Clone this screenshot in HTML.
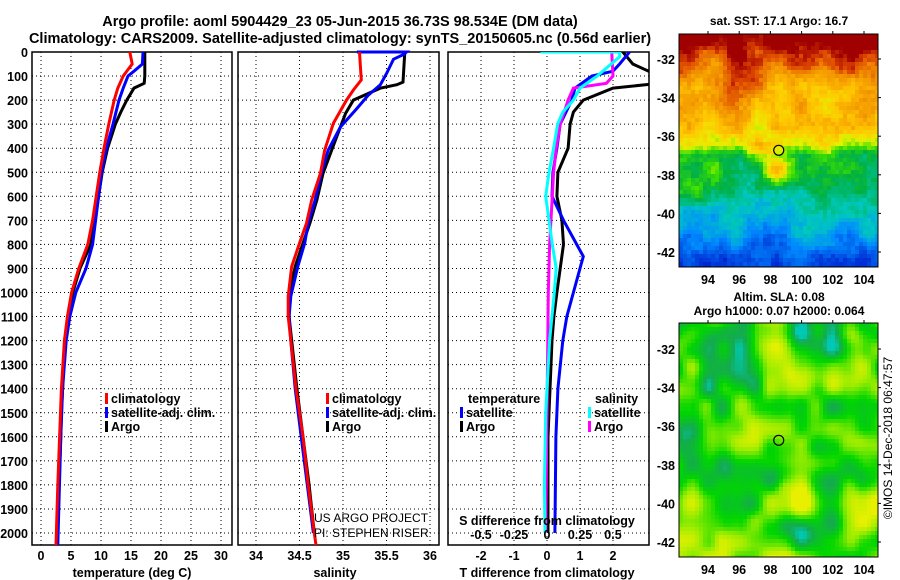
<!DOCTYPE html>
<html><head><meta charset="utf-8"><style>
body{margin:0;background:#fff;}
svg{display:block;font-family:"Liberation Sans",Arial,sans-serif;}
.b{font-weight:bold;}
</style></head><body>
<svg id="fig" width="900" height="580" viewBox="0 0 900 580">
<text x="340" y="26" text-anchor="middle" font-size="14.5" class="b">Argo profile: aoml 5904429_23 05-Jun-2015 36.73S 98.534E (DM data)</text>
<text x="340" y="43" text-anchor="middle" font-size="14.5" class="b">Climatology: CARS2009. Satellite-adjusted climatology: synTS_20150605.nc (0.56d earlier)</text>
<g id="grids"></g>
<g id="series"></g>
<g id="maps"></g>
<g id="labels"></g>
</svg>
<script>
// ---- depth axis ticks
const depthTicks=[0,100,200,300,400,500,600,700,800,900,1000,1100,1200,1300,1400,1500,1600,1700,1800,1900,2000];
const tempTicks=[0,5,10,15,20,25,30];
const salTicks=[34,34.5,35,35.5,36];
const tdiffTicks=[-2,-1,0,1,2];
const sdiffTicks=[-0.5,-0.25,0,0.25,0.5];
const sdiffTickLabels=['-0.5','-0.25','0','0.25','0.5'];
// ---- temperature profiles
const tClimDepth=[0,50,100,150,200,300,400,500,600,700,800,900,1000,1100,1200,1400,1600,1800,2050];
const tClimVal=[14.8,15.2,13.7,12.8,12.2,11.3,10.5,9.8,9.2,8.6,7.8,6.3,5.1,4.4,3.9,3.4,3.1,2.8,2.5];
const tSatDepth=[0,50,80,100,150,200,300,400,500,700,800,900,1000,1100,1200,1400,1600,2050];
const tSatVal=[17.0,16.9,15.5,14.5,13.7,13.0,12.0,10.9,10.1,9.1,8.6,7.5,5.8,4.8,4.2,3.6,3.3,2.8];
const tArgoDepth=[0,100,130,150,200,250,300,400,500,600,700,800,900,1000,1100,1200,1300,1400,1500,1600,1800,2000,2050];
const tArgoVal=[17.3,17.3,17.2,15.5,14.3,13.3,12.4,11.1,10.2,9.6,9.0,8.3,6.5,5.3,4.6,4.1,3.8,3.6,3.4,3.3,3.0,2.8,2.7];
// ---- salinity profiles
const sClimDepth=[0,60,116,158,200,296,408,505,615,712,795,892,1015,1100,1200,1400,1600,1800,2000,2050];
const sClimVal=[35.19,35.2,35.21,35.12,35.04,34.89,34.79,34.74,34.64,34.58,34.5,34.41,34.37,34.37,34.4,34.46,34.54,34.6,34.67,34.69];
const sSatDepth=[0,0,10,30,90,136,180,235,312,408,505,615,712,795,892,1015,1100,1200,1400,1600,1800,2000];
const sSatVal=[35.16,35.73,35.70,35.58,35.5,35.43,35.29,35.16,34.97,34.83,34.75,34.68,34.6,34.56,34.48,34.40,34.38,34.40,34.45,34.52,34.59,34.66];
const sArgoDepth=[0,125,136,150,200,255,312,408,505,615,712,795,892,1015,1100,1200,1400,1600,1800,2000];
const sArgoVal=[35.71,35.69,35.62,35.43,35.12,35.03,34.97,34.87,34.77,34.70,34.62,34.54,34.45,34.38,34.38,34.41,34.47,34.54,34.61,34.67];
// ---- differences from climatology
const dTArgoDepth=[0,50,100,130,150,200,250,300,400,500,600,700,800,900,1000,1100,1200,1400,1600,2000];
const dTArgoVal=[2.3,2.6,3.4,3.4,2.0,1.1,0.8,0.7,0.64,0.33,0.3,0.45,0.5,0.4,0.3,0.21,0.15,0.09,0.03,0.03];
const dTSatDepth=[0,50,80,100,150,200,300,400,500,600,700,800,850,900,1000,1100,1200,1400,1600,2000];
const dTSatVal=[2.5,2.2,2.0,1.36,0.85,0.75,0.4,0.3,0.18,0.15,0.5,0.9,1.1,1.0,0.8,0.6,0.48,0.33,0.27,0.24];
const dSArgoDepth=[0,100,130,150,200,300,400,500,600,800,900,1000,1500,2000];
const dSArgoVal=[0.49,0.5,0.45,0.2,0.16,0.1,0.07,0.05,0.04,0.02,0.015,0.01,0.0,-0.01];
const dSSatDepth=[0,0,20,100,150,200,250,300,400,500,600,800,900,1000,1200,1500,1800,2000];
const dSSatVal=[-0.05,0.55,0.55,0.38,0.25,0.2,0.12,0.08,0.05,0.015,-0.01,0.04,0.07,0.055,0.02,-0.01,-0.02,-0.015];
// ---- map axes
const lonTicks=[94,96,98,100,102,104];
const latTicks=[-32,-34,-36,-38,-40,-42];
const argoLon=98.534, argoLat=-36.73;

const NS='http://www.w3.org/2000/svg';
function mk(tag,attrs,parent){const e=document.createElementNS(NS,tag);for(const k in attrs)e.setAttribute(k,attrs[k]);parent.appendChild(e);return e;}
const G=document.getElementById('grids'),S=document.getElementById('series'),M=document.getElementById('maps'),L=document.getElementById('labels');
const TOP=52,BOT=545;
const yD=d=>TOP+d*0.2405;
const xT=t=>41+6*t;
const xS=s=>256+87*(s-34);
const xDT=t=>547+33*t;
const xDS=s=>547+132*s;
const panels=[{x0:32,x1:232,name:'temperature-panel'},{x0:238,x1:439,name:'salinity-panel'},{x0:448,x1:649,name:'difference-panel'}];

function text(x,y,str,opts,name){const t=mk('text',Object.assign({x:x,y:y,'font-size':12.5,'font-weight':'bold'},opts||{}),L);t.textContent=str;


return t;}

const defs=mk('defs',{},document.getElementById('fig'));
const cp=mk('clipPath',{id:'clip3'},defs);mk('rect',{x:448,y:TOP,width:201,height:BOT-TOP},cp);

panels.forEach((p,i)=>{
  const r=mk('rect',{x:p.x0,y:TOP,width:p.x1-p.x0,height:BOT-TOP,fill:'none',stroke:'#000','stroke-width':1.5},G);
  
  
  depthTicks.forEach(d=>{if(d===0)return;const l=mk('line',{x1:p.x0,x2:p.x1,y1:yD(d),y2:yD(d),stroke:'#000','stroke-dasharray':'1 3','stroke-width':1},G);
  
  });
});
function vgrid(ticks,fx){ticks.forEach(t=>{const x=fx(t);const l=mk('line',{x1:x,x2:x,y1:TOP,y2:BOT,stroke:'#000','stroke-dasharray':'1 3','stroke-width':1},G);

});}
vgrid(tempTicks,xT);vgrid(salTicks,xS);vgrid(tdiffTicks,xDT);

function line(ds,vs,fx,color,name,clip){const pts=ds.map((d,i)=>fx(vs[i]).toFixed(1)+','+yD(d).toFixed(1)).join(' ');
const a={points:pts,fill:'none',stroke:color,'stroke-width':3,'stroke-linejoin':'miter'};if(clip)a['clip-path']='url(#clip3)';
const pl=mk('polyline',a,S);

}
line(tArgoDepth,tArgoVal,xT,'#000','temp-argo-line');
line(tSatDepth,tSatVal,xT,'#0000ff','temp-satellite-line');
line(tClimDepth,tClimVal,xT,'#ff0000','temp-climatology-line');
line(sArgoDepth,sArgoVal,xS,'#000','sal-argo-line');
line(sSatDepth,sSatVal,xS,'#0000ff','sal-satellite-line');
line(sClimDepth,sClimVal,xS,'#ff0000','sal-climatology-line');
line(dTArgoDepth,dTArgoVal,xDT,'#000','tdiff-argo-line',1);
line(dTSatDepth,dTSatVal,xDT,'#0000ff','tdiff-satellite-line',1);
line(dSArgoDepth,dSArgoVal,xDS,'#ff00ff','sdiff-argo-line',1);
line(dSSatDepth,dSSatVal,xDS,'#00ffff','sdiff-satellite-line',1);

depthTicks.forEach(d=>text(28,yD(d)+5,String(d),{'text-anchor':'end'},'depth-tick-label'));
tempTicks.forEach(t=>text(xT(t),560,String(t),{'text-anchor':'middle'},'temp-tick-label'));
salTicks.forEach(s=>text(xS(s),560,String(s),{'text-anchor':'middle'},'sal-tick-label'));
tdiffTicks.forEach(t=>text(xDT(t),560,String(t),{'text-anchor':'middle'},'tdiff-tick-label'));
sdiffTicks.forEach((s,i)=>text(xDS(s),539,sdiffTickLabels[i],{'text-anchor':'middle'},'sdiff-tick-label'));
text(132,577,'temperature (deg C)',{'text-anchor':'middle'},'temp-axis-title');
text(335,577,'salinity',{'text-anchor':'middle'},'sal-axis-title');
text(547,577,'T difference from climatology',{'text-anchor':'middle'},'tdiff-axis-title');
text(547,525,'S difference from climatology',{'text-anchor':'middle'},'sdiff-axis-title');

function leg(x,y,color,label,name){const r=mk('rect',{x:x,y:y-10,width:3,height:11,fill:color},L);


text(x+6,y,label,{},name);}
[[105,'#ff0000','climatology'],[105,'#0000ff','satellite-adj. clim.'],[105,'#000','Argo']].forEach((e,i)=>leg(e[0],403+i*14,e[1],e[2],'temp-legend-entry'));
[[326,'#ff0000','climatology'],[326,'#0000ff','satellite-adj. clim.'],[326,'#000','Argo']].forEach((e,i)=>leg(e[0],403+i*14,e[1],e[2],'sal-legend-entry'));
text(468,403,'temperature',{},'tdiff-legend-title');
leg(460,417,'#0000ff','satellite','tdiff-legend-satellite');
leg(460,431,'#000','Argo','tdiff-legend-argo');
text(595,403,'salinity',{},'sdiff-legend-title');
leg(588,417,'#00ffff','satellite','sdiff-legend-satellite');
leg(588,431,'#ff00ff','Argo','sdiff-legend-argo');
text(314,522,'US ARGO PROJECT',{'font-weight':'normal','font-size':12},'credit-project');
text(314,537,'PI: STEPHEN RISER',{'font-weight':'normal','font-size':12},'credit-pi');

// ---- maps (texture)
function hash(i,j,s){let h=Math.sin(i*127.1+j*311.7+s*74.7)*43758.5453;return h-Math.floor(h);}
function vnoise(x,y,s){const i=Math.floor(x),j=Math.floor(y),fx=x-i,fy=y-j;const u=fx*fx*(3-2*fx),v=fy*fy*(3-2*fy);
const a=hash(i,j,s),b=hash(i+1,j,s),c=hash(i,j+1,s),d=hash(i+1,j+1,s);return a+(b-a)*u+(c-a)*v+(a-b-c+d)*u*v;}
function lerpPal(pal,v){v=Math.max(0,Math.min(1,v));for(let k=1;k<pal.length;k++){if(v<=pal[k][0]){const a=pal[k-1],b=pal[k];const t=(v-a[0])/(b[0]-a[0]);
const ca=a[1],cb=b[1];return 'rgb('+ca.map((c,q)=>Math.round(c+(cb[q]-c)*t)).join(',')+')';}}return 'rgb('+pal[pal.length-1][1].join(',')+')';}
const sstPal=[[0,[0,0,130]],[0.15,[0,40,210]],[0.3,[0,140,255]],[0.42,[0,200,190]],[0.52,[0,176,64]],[0.6,[60,224,0]],[0.68,[230,240,0]],[0.76,[255,200,0]],[0.86,[240,140,0]],[0.93,[220,70,0]],[1,[160,0,0]]];
const slaPal=[[0,[0,200,180]],[0.15,[20,170,80]],[0.45,[0,214,0]],[0.75,[150,236,0]],[1,[232,240,0]]];
function latBase(lat){const pts=[[-31,1.0],[-32.5,0.9],[-33.5,0.82],[-35,0.76],[-36.4,0.7],[-37,0.55],[-38.5,0.52],[-39.5,0.45],[-40.5,0.38],[-41.5,0.28],[-42.5,0.18],[-43,0.15]];
for(let k=1;k<pts.length;k++){if(lat>=pts[k][0]){const a=pts[k-1],b=pts[k];return a[1]+(b[1]-a[1])*(lat-a[0])/(b[0]-a[0]);}}return 0.15;}
function drawMap(x0,y0,w,h,latPx32,mode,name){
  const g=mk('g',{},M);
  
  
  const cs=4;const lx=lon=>708+(lon-94)*15.6;const ly=lat=>latPx32+(-32-lat)*19.3;
  for(let yy=y0;yy<y0+h;yy+=cs){for(let xx=x0;xx<x0+w;xx+=cs){
    const lon=94+(xx+2-708)/15.6,lat=-32-(yy+2-latPx32)/19.3;let col;
    if(mode==='sst'){let v=latBase(lat)+0.16*(vnoise(lon*0.7,lat*0.9,1)-0.5)+0.07*(vnoise(lon*1.8,lat*1.8,5)-0.5)+0.05*(hash(xx,yy,3)-0.5);
      const dx=(lon-98.2)/1.0,dy=(lat+37.6)/1.1;const wedge=Math.exp(-(dx*dx+dy*dy));
      if(lat<-36.3)v+=0.16*wedge;
      col=lerpPal(sstPal,v);}
    else{let v=0.6*vnoise(lon*0.55,lat*0.6,7)+0.4*vnoise(lon*1.0,lat*1.0,11);v=(v-0.15)*1.6;col=lerpPal(slaPal,v);}
    mk('rect',{x:xx,y:yy,width:Math.min(cs,x0+w-xx),height:Math.min(cs,y0+h-yy),fill:col},g);}}
  mk('rect',{x:x0,y:y0,width:w,height:h,fill:'none',stroke:'#000','stroke-width':1},g);
  const c=mk('circle',{cx:lx(argoLon),cy:ly(argoLat),r:5,fill:'none',stroke:'#000','stroke-width':1.2},g);
  
  
  latTicks.forEach(l=>{text(x0-4,ly(l)+5,String(l),{'text-anchor':'end'},name+'-lat-label');
    mk('line',{x1:x0+w,x2:x0+w+3,y1:ly(l),y2:ly(l),stroke:'#000'},g);});
  lonTicks.forEach(l=>{text(lx(l),y0+h+17,String(l),{'text-anchor':'middle'},name+'-lon-label');
    mk('line',{x1:lx(l),x2:lx(l),y1:y0-3,y2:y0,stroke:'#000'},g);});
}
drawMap(679,34,199,233,59,'sst','sst-map');
drawMap(679,323,199,234,349,'sla','sla-map');
text(779,25,'sat. SST: 17.1 Argo: 16.7',{'text-anchor':'middle','font-size':12},'sst-map-title');
text(779,301,'Altim. SLA: 0.08',{'text-anchor':'middle','font-size':12},'sla-map-title-1');
text(779,315,'Argo h1000: 0.07 h2000: 0.064',{'text-anchor':'middle','font-size':12},'sla-map-title-2');
text(0,0,'\u00a9IMOS 14-Dec-2018 06:47:57',{'font-weight':'normal','font-size':12,'text-anchor':'middle',transform:'translate(892,438) rotate(-90)'},'imos-timestamp');
</script>
</body></html>
